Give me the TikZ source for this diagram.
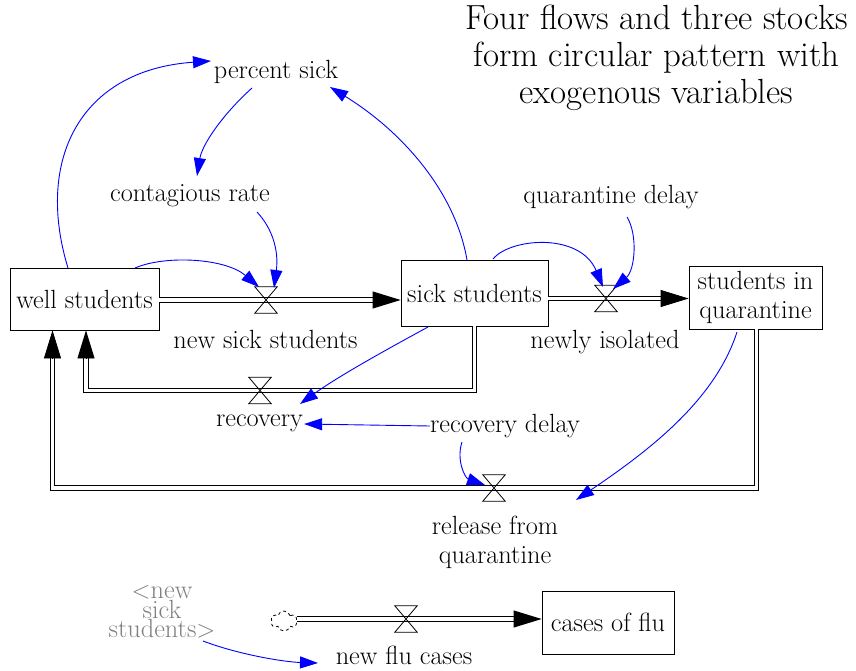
\documentclass[tikz,border=0pt]{standalone}
\usetikzlibrary{arrows.meta,calc,shapes.symbols}
\begin{document}
\begin{tikzpicture}[x=1pt,y=-1pt,
  lbl/.style={font=\fontsize{26.3}{29}\selectfont, inner sep=0pt, align=center},
  stock/.style={draw=black, line width=0.8pt, inner sep=0pt, font=\fontsize{26.3}{29}\selectfont, align=center},
  valvenode/.style={inner sep=0pt, minimum width=22pt, minimum height=26pt},
  valveline/.style={draw=black, line width=0.8pt},
  pipe/.style={draw=black, line width=0.8pt, double=white, double distance=3.5pt},
  pipehead/.style={draw=black, line width=0.8pt, -{Triangle[length=28pt,width=17pt]}},
  link/.style={draw=blue, line width=0.9pt, -{Triangle[length=18pt,width=12pt]}},
]
\useasboundingbox (0,0) rectangle (856,671);

% title
\node[font=\fontsize{34.9}{37}\selectfont, align=center, inner sep=0pt] (title) at (656.5,58)
  {Four flows and three stocks\\form circular pattern with\\exogenous variables};

% stocks
\node[stock, minimum width=149pt, minimum height=62pt] (wells) at (84.5,299) {well students};
\node[stock, minimum width=147pt, minimum height=66pt] (sick) at (474.5,293) {sick students};
\node[stock, minimum width=133pt, minimum height=63pt] (quar) at (755.5,297.5) {students in\\quarantine};
\node[stock, minimum width=132pt, minimum height=63pt] (flu) at (608,622.5) {cases of flu};

% auxiliaries and labels
\node[lbl] (psick) at (276,72) {percent sick};
\node[lbl] (crate) at (190,196) {contagious rate};
\node[lbl] (qdelay) at (611,197) {quarantine delay};
\node[lbl] (nsick) at (265.5,339) {new sick students};
\node[lbl] (niso) at (605,342) {newly isolated};
\node[lbl] (recov) at (259.5,423) {recovery};
\node[lbl] (rdelay) at (505,426) {recovery delay};
\node[lbl] (rel) at (495,542) {release from\\quarantine};
\node[lbl] (newflu) at (404,655) {new flu cases};
\node[lbl, text=gray, font=\fontsize{26.3}{17}\selectfont] (ghost) at (162,612) {$<$new\\sick\\students$>$};

% cloud source
\node[cloud, cloud puffs=6, draw=black, dashed, line width=0.8pt, minimum width=26pt, minimum height=20pt, inner sep=0pt] (src) at (284,621) {};

% valves
\node[valvenode] (v1) at (266,300) {};
\node[valvenode] (v2) at (606,298.5) {};
\node[valvenode] (v3) at (260,390.5) {};
\node[valvenode] (v4) at (494,488) {};
\node[valvenode] (v5) at (406,619) {};

\coordinate (rl) at ($(wells.south)+(1.5,0)$);
\coordinate (ql) at ($(wells.south)+(-32,0)$);

% pipes
\draw[pipe, shorten >=27pt] (wells.east |- v1.center) -- (sick.west |- v1.center);
\draw[pipehead] ($(sick.west |- v1.center)+(-28,0)$) -- (sick.west |- v1.center);

\draw[pipe, shorten >=27pt] (sick.east |- v2.center) -- (quar.west |- v2.center);
\draw[pipehead] ($(quar.west |- v2.center)+(-28,0)$) -- (quar.west |- v2.center);

\draw[pipe, shorten >=27pt] (sick.south) |- (v3.center) -| (rl);
\draw[pipehead] ($(rl)+(0,28)$) -- (rl);

\draw[pipe, shorten >=27pt] ($(quar.south)+(1,0)$) |- (v4.center) -| (ql);
\draw[pipehead] ($(ql)+(0,28)$) -- (ql);

\draw[pipe, shorten >=27pt] (src.east |- v5.center) -- (flu.west |- v5.center);
\draw[pipehead] ($(flu.west |- v5.center)+(-28,0)$) -- (flu.west |- v5.center);

\foreach \v in {v1,v2,v3,v4,v5}
  \draw[valveline] (\v.north west) -- (\v.north east) -- (\v.south west) -- (\v.south east) -- cycle;

% information links
\draw[link] ($(wells)+(-16.5,-31)$) .. controls (35,160) and (80,70) .. ($(psick)+(-65,-11)$);
\draw[link] ($(psick)+(-24,16)$) .. controls (222,115) and (202,145) .. ($(crate)+(7,-20)$);
\draw[link] ($(crate)+(67,16)$) .. controls (272,228) and (279,250) .. ($(v1)+(8,-12)$);
\draw[link] ($(wells)+(50.5,-31)$) .. controls (165,255) and (225,258) .. ($(v1)+(-7,-13)$);
\draw[link] ($(sick)+(-7.5,-33)$) .. controls (455,190) and (400,130) .. ($(psick)+(54,15)$);
\draw[link] ($(sick)+(18.5,-34)$) .. controls (510,238) and (580,232) .. ($(v2)+(-3,-11.5)$);
\draw[link] ($(qdelay)+(16,20)$) .. controls (638,235) and (635,270) .. ($(v2)+(7,-9.5)$);
\draw[link] ($(sick)+(-46.5,34)$) .. controls (395,345) and (340,375) .. ($(recov)+(40.5,-19)$);
\draw[link] (rdelay.west) -- ($(recov.east)+(1,1)$);
\draw[link] ($(rdelay)+(-43,16)$) .. controls (456,460) and (465,478) .. ($(v4)+(-9,-3)$);
\draw[link] ($(quar)+(-18.5,34.5)$) .. controls (715,400) and (650,450) .. ($(v4)+(82,12)$);
\draw[link] ($(ghost)+(41,29)$) .. controls (240,655) and (285,662) .. ($(newflu)+(-86,8)$);
\end{tikzpicture}
\end{document}
